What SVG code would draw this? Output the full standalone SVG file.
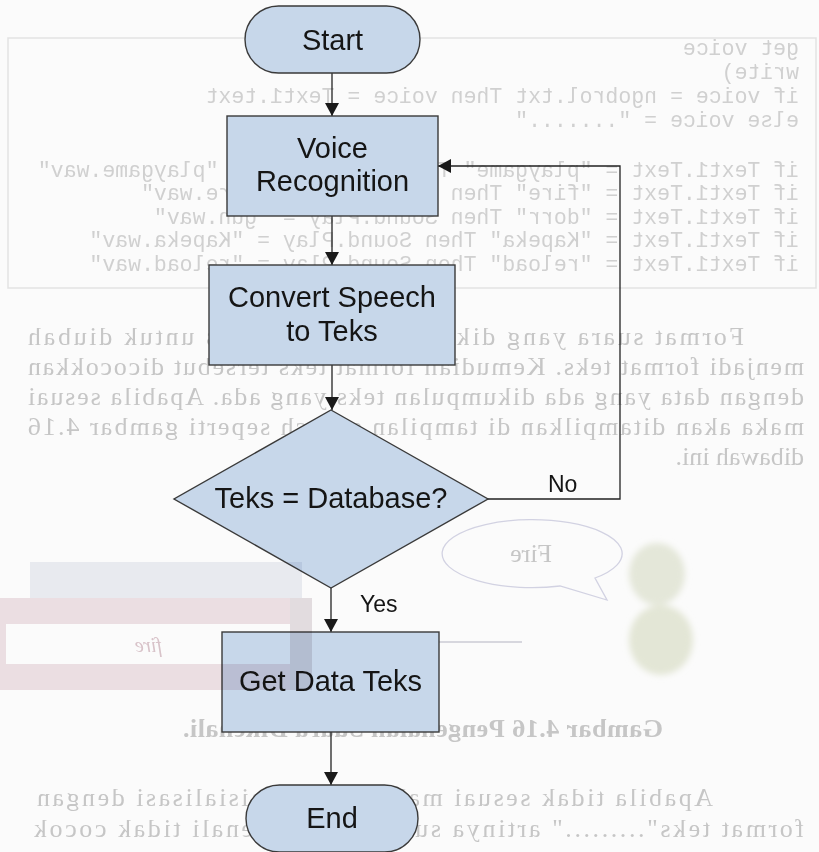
<svg xmlns="http://www.w3.org/2000/svg" width="819" height="852" viewBox="0 0 819 852">
  <defs>
    <marker id="arrow" markerUnits="userSpaceOnUse" markerWidth="14" markerHeight="14" refX="13" refY="7" orient="auto">
      <path d="M0,0 L13,7 L0,14 Z" fill="#1a1a1a"/>
    </marker>
    <marker id="arrow-faint" markerUnits="userSpaceOnUse" markerWidth="12" markerHeight="10" refX="11" refY="5" orient="auto">
      <path d="M0,0 L11,5 L0,10 Z" fill="#c9c9d2"/>
    </marker>
    <filter id="soft" x="-30%" y="-30%" width="160%" height="160%">
      <feGaussianBlur stdDeviation="3"/>
    </filter>
    <style>
      .shape { fill: #c7d7ea; stroke: #3a3a3a; stroke-width: 1.4; }
      .lbl { font-family: "Liberation Sans", Arial, sans-serif; font-size: 29px; fill: #151515; text-anchor: middle; }
      .elbl { font-family: "Liberation Sans", Arial, sans-serif; font-size: 23px; fill: #151515; }
      .edge { fill: none; stroke: #222222; stroke-width: 1.3; marker-end: url(#arrow); }
      .bg-code { font-family: "Liberation Mono", "Courier New", monospace; font-size: 21.5px; fill: #d0d0d0; }
      .bg-serif { font-family: "Liberation Serif", "Times New Roman", serif; font-size: 26px; fill: #c6c6c6; }
    </style>
  </defs>

  <!-- page -->
  <rect x="0" y="0" width="819" height="852" fill="#fbfbfb"/>

  <!-- show-through from the reverse side of the sheet (mirrored) -->
  <g id="reverse-side">
    <rect x="8" y="38" width="808" height="250" fill="none" stroke="#e3e3e3" stroke-width="1.5"/>
    <g transform="scale(-1,1)">
      <text class="bg-code" x="-799" y="55">get voice</text>
      <text class="bg-code" x="-799" y="79">write)</text>
      <text class="bg-code" x="-799" y="103">if voice = ngobrol.txt Then voice = Text1.text</text>
      <text class="bg-code" x="-799" y="127">else voice = "......."</text>
      <text class="bg-code" x="-799" y="177">if Text1.Text = "playgame" Then Sound.Play = "playgame.wav"</text>
      <text class="bg-code" x="-799" y="200">if Text1.Text = "fire" Then Sound.Play = "fire.wav"</text>
      <text class="bg-code" x="-799" y="224">if Text1.Text = "dorr" Then Sound.Play = "gun.wav"</text>
      <text class="bg-code" x="-799" y="247">if Text1.Text = "Kapeka" Then Sound.Play = "Kapeka.wav"</text>
      <text class="bg-code" x="-799" y="271">if Text1.Text = "reload" Then Sound.Play = "reload.wav"</text>

      <text class="bg-serif" x="-744" y="345" textLength="716" lengthAdjust="spacing">Format suara yang dikenali akan diproses untuk diubah</text>
      <text class="bg-serif" x="-804" y="375" textLength="776" lengthAdjust="spacing">menjadi format teks. Kemudian format teks tersebut dicocokkan</text>
      <text class="bg-serif" x="-804" y="405" textLength="776" lengthAdjust="spacing">dengan data yang ada dikumpulan teks yang ada. Apabila sesuai</text>
      <text class="bg-serif" x="-804" y="435" textLength="776" lengthAdjust="spacing">maka akan ditampilkan di tampilan speech seperti gambar 4.16</text>
      <text class="bg-serif" x="-804" y="465">dibawah ini.</text>

      <text class="bg-serif" x="-663" y="737" textLength="480" lengthAdjust="spacing" font-weight="bold" fill="#cdcdcd">Gambar 4.16 Pengenalan Suara Dikenali.</text>

      <text class="bg-serif" x="-713" y="806" textLength="676" lengthAdjust="spacing">Apabila tidak sesuai maka akan diinisialisasi dengan</text>
      <text class="bg-serif" x="-804" y="837" textLength="770" lengthAdjust="spacing">format teks"........." artinya suara yang dikenali tidak cocok</text>
    </g>
    <!-- speech bubble and figure -->
    <path d="M 560,586 A 90,34 0 1 1 595,578 L 607,600 Z" fill="none" stroke="#d2d2e2" stroke-width="1.3"/>
    <text class="bg-serif" transform="scale(-1,1)" x="-552" y="562" font-size="24" fill="#d3d3de">Fire</text>
    <g filter="url(#soft)">
      <ellipse cx="657" cy="574" rx="28" ry="31" fill="#e4e7d9"/>
      <ellipse cx="661" cy="640" rx="32" ry="35" fill="#e3e6d6"/>
    </g>
    <line x1="522" y1="642" x2="357" y2="642" stroke="#cbcbd4" stroke-width="1.4" marker-end="url(#arrow-faint)"/>
  </g>

  <!-- connectors -->
  <g id="connectors">
    <line class="edge" x1="332" y1="73" x2="332" y2="116"/>
    <line class="edge" x1="332" y1="216" x2="332" y2="265"/>
    <line class="edge" x1="332" y1="365" x2="332" y2="410"/>
    <line class="edge" x1="331" y1="588" x2="331" y2="632"/>
    <line class="edge" x1="331" y1="732" x2="331" y2="785"/>
    <polyline class="edge" points="488,499 620,499 620,166 438,166"/>
    <text class="elbl" x="548" y="492">No</text>
    <text class="elbl" x="360" y="612">Yes</text>
  </g>

  <!-- nodes -->
  <g id="start">
    <rect class="shape" x="245" y="6" width="175" height="67" rx="33.5" ry="33.5"/>
    <text class="lbl" x="332.5" y="50">Start</text>
  </g>
  <g id="voice-recognition">
    <rect class="shape" x="227" y="116" width="211" height="100"/>
    <text class="lbl" x="332.5" y="158">Voice</text>
    <text class="lbl" x="332.5" y="191">Recognition</text>
  </g>
  <g id="convert-speech">
    <rect class="shape" x="209" y="265" width="246" height="100"/>
    <text class="lbl" x="332" y="307">Convert Speech</text>
    <text class="lbl" x="332" y="341">to Teks</text>
  </g>
  <g id="decision">
    <polygon class="shape" points="331,410 488,499 331,588 174,499"/>
    <text class="lbl" x="331" y="508">Teks = Database?</text>
  </g>
  <g id="get-data">
    <rect class="shape" x="222" y="632" width="217" height="100"/>
    <text class="lbl" x="330.5" y="691">Get Data Teks</text>
  </g>
  <g id="end">
    <rect class="shape" x="246" y="785" width="172" height="67" rx="33.5" ry="33.5"/>
    <text class="lbl" x="332" y="828">End</text>
  </g>

  <!-- screenshot frame from the reverse side, printed through the diagram -->
  <g id="reverse-screenshot" style="mix-blend-mode: multiply">
    <rect x="30" y="562" width="272" height="36" fill="#eceef3"/>
    <rect x="0" y="598" width="310" height="92" fill="#efe2e6"/>
    <rect x="6" y="624" width="284" height="40" fill="#ffffff"/>
    <rect x="290" y="598" width="22" height="92" fill="#e6e0e3"/>
    <text transform="scale(-1,1)" x="-162" y="652" font-family="'Liberation Serif', serif" font-style="italic" font-size="20" fill="#dcc6cd">fire</text>
  </g>
</svg>
